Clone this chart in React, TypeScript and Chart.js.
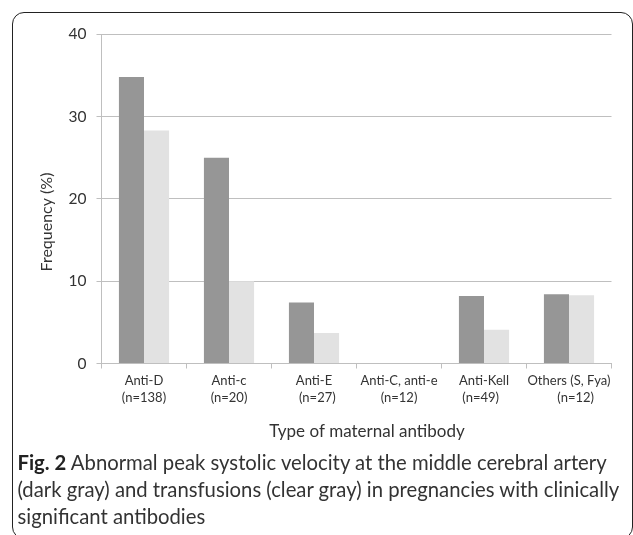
import React, { useEffect, useRef } from "react";
import { Chart, registerables } from "chart.js";

Chart.register(...registerables);

const categories: string[][] = [
  ["Anti-D", "(n=138)"],
  ["Anti-c", "(n=20)"],
  ["Anti-E", "  (n=27)"],
  ["Anti-C, anti-e", "(n=12)"],
  ["Anti-Kell", "(n=49)  "],
  ["Others (S, Fya)", "    (n=12)"],
];
const abnormalPSV = [34.8, 25.0, 7.4, 0, 8.2, 8.4];
const transfusions = [28.3, 10.0, 3.7, 0, 4.1, 8.3];
const yTickValues = [0, 10, 20, 30, 40];
const yTitle = "Frequency (%)";
const xTitle = "Type of maternal antibody";

const titlesPlugin = {
  id: "customTitles",
  afterDraw(chart: any) {
    const ctx = chart.ctx as CanvasRenderingContext2D;
    ctx.save();
    ctx.fillStyle = "#333";
    ctx.font = "16px Lato";
    ctx.textAlign = "center";
    ctx.textBaseline = "middle";
    ctx.translate(47, 222);
    ctx.rotate(-Math.PI / 2);
    ctx.fillText(yTitle, 0, 0);
    ctx.restore();
    ctx.save();
    ctx.fillStyle = "#333";
    ctx.font = "17px Lato";
    ctx.textAlign = "center";
    ctx.textBaseline = "middle";
    ctx.fillText(xTitle, 367, 432);
    ctx.restore();
  },
};

export default function App() {
  const ref = useRef<HTMLCanvasElement>(null);
  useEffect(() => {
    if (!ref.current) return;
    const chart = new Chart(ref.current, {
      type: "bar",
      data: {
        labels: categories,
        datasets: [
          {
            label: "Abnormal PSV",
            data: abnormalPSV,
            backgroundColor: "#969696",
            categoryPercentage: 0.59,
            barPercentage: 1.0,
          },
          {
            label: "Transfusions",
            data: transfusions,
            backgroundColor: "#e2e2e2",
            categoryPercentage: 0.59,
            barPercentage: 1.0,
          },
        ],
      },
      options: {
        responsive: false,
        animation: false,
        layout: { padding: { left: 34, right: 21.5, top: 34.3, bottom: 0 } },
        plugins: { legend: { display: false }, tooltip: { enabled: false } },
        scales: {
          x: {
            afterFit: (axis: any) => {
              axis.height = 86.5;
            },
            grid: {
              drawOnChartArea: false,
              drawTicks: true,
              tickLength: 5,
              color: "#bfbfbf",
              offset: true,
            },
            border: { color: "#bfbfbf", width: 1 },
            ticks: {
              color: "#333",
              padding: 4,
              maxRotation: 0,
              autoSkip: false,
              font: { family: "Lato", size: 13, lineHeight: 1.28 },
            },
          },
          y: {
            min: 0,
            max: 40,
            afterFit: (axis: any) => {
              axis.width = 67.5;
            },
            afterBuildTicks: (axis: any) => {
              axis.ticks = yTickValues.map((v) => ({ value: v }));
            },
            grid: { color: "#bfbfbf", tickLength: 5, drawTicks: true },
            border: { color: "#bfbfbf", width: 1 },
            ticks: {
              color: "#333",
              padding: 10,
              font: { family: "Lato", size: 15.5 },
            },
          },
        },
      },
      plugins: [titlesPlugin],
    });
    return () => chart.destroy();
  }, []);

  return (
    <div
      style={{
        position: "fixed",
        left: 0,
        top: 0,
        width: 633,
        height: 535,
        background: "#fff",
        overflow: "hidden",
      }}
    >
      <div
        style={{
          position: "absolute",
          left: 12,
          top: 12,
          width: 621,
          height: 527,
          boxSizing: "border-box",
          border: "1.5px solid #222",
          borderRadius: 12,
        }}
      />
      <canvas
        ref={ref}
        width={633}
        height={450}
        style={{ position: "absolute", left: 0, top: 0 }}
      />
      <div
        style={{
          position: "absolute",
          left: 17.5,
          top: 449,
          fontFamily: "Lato",
          fontSize: 20.3,
          lineHeight: "27px",
          color: "#333",
          whiteSpace: "nowrap",
        }}
      >
        <b style={{ color: "#222" }}>Fig. 2</b> Abnormal peak systolic velocity at the middle cerebral artery
        <br />
        (dark gray) and transfusions (clear gray) in pregnancies with clinically
        <br />
        significant antibodies
      </div>
    </div>
  );
}
